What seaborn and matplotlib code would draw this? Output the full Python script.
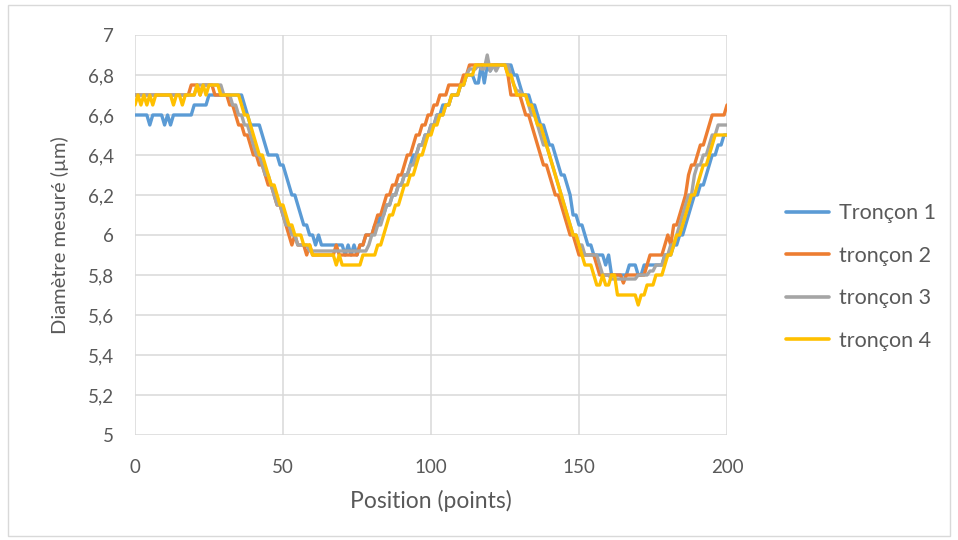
import numpy as np
import pandas as pd
import matplotlib
matplotlib.use("Agg")
import matplotlib.pyplot as plt
from matplotlib.lines import Line2D
from matplotlib.patches import Rectangle
import seaborn as sns

# ---- data (step starts along position, and the measured value from that position on)
positions = list(range(0, 201))

t1_x = [0,5,6,10,11,12,13,20,25,37,38,39,43,44,45,49,51,52,53,55,56,57,59,61,62,63,71,72,73,74,75,76,78,81,83,85,87,89,91,93,94,96,98,100,102,104,107,110,112,115,117,118,119,120,121,128,130,131,134,136,137,139,140,142,143,144,146,147,148,150,152,153,155,159,160,161,167,170,172,179,182,184,186,187,188,189,191,193,194,195,197,199]
t1_y = [6.60,6.55,6.60,6.55,6.60,6.55,6.60,6.65,6.70,6.65,6.60,6.55,6.50,6.45,6.40,6.35,6.30,6.25,6.20,6.15,6.10,6.05,6.00,5.95,6.00,5.95,5.90,5.95,5.90,5.95,5.90,5.95,6.00,6.05,6.10,6.15,6.20,6.25,6.30,6.35,6.40,6.45,6.50,6.55,6.60,6.65,6.70,6.75,6.80,6.76,6.85,6.76,6.85,6.82,6.85,6.80,6.75,6.70,6.65,6.60,6.55,6.50,6.45,6.40,6.35,6.30,6.25,6.20,6.10,6.05,6.00,5.95,5.90,5.85,5.90,5.80,5.85,5.80,5.85,5.90,5.95,6.00,6.05,6.10,6.15,6.20,6.25,6.30,6.35,6.40,6.45,6.50]

t2_x = [0,19,22,23,27,32,34,35,37,39,40,42,44,45,47,48,50,51,52,53,54,55,58,59,60,68,69,76,78,81,82,84,85,87,89,91,92,94,95,97,99,101,103,106,111,113,126,127,131,132,134,135,136,137,138,140,141,142,144,145,146,147,149,150,156,157,165,166,173,174,179,180,181,182,184,185,186,187,188,190,191,193,194,195,200]
t2_y = [6.70,6.75,6.70,6.75,6.70,6.65,6.60,6.55,6.50,6.45,6.40,6.35,6.30,6.25,6.20,6.15,6.10,6.05,6.00,5.95,6.00,5.95,5.90,5.95,5.90,5.95,5.90,5.95,6.00,6.05,6.10,6.15,6.20,6.25,6.30,6.35,6.40,6.45,6.50,6.55,6.60,6.65,6.70,6.75,6.80,6.85,6.80,6.70,6.65,6.60,6.55,6.50,6.45,6.40,6.35,6.30,6.25,6.20,6.15,6.10,6.05,6.00,5.95,5.90,5.85,5.80,5.76,5.80,5.85,5.90,5.95,6.00,5.95,6.05,6.10,6.15,6.20,6.30,6.35,6.40,6.45,6.50,6.55,6.60,6.65]

t3_x = [0,21,30,33,35,37,39,40,41,43,44,46,47,48,50,51,53,55,59,79,80,82,84,85,87,89,91,93,95,96,98,100,102,105,107,110,112,113,116,117,119,120,121,122,123,127,128,129,131,133,134,136,137,138,140,141,142,143,144,145,146,147,148,150,152,157,158,161,170,174,176,179,181,183,184,185,186,187,189,190,192,194,195,197]
t3_y = [6.70,6.75,6.70,6.65,6.60,6.55,6.50,6.45,6.40,6.35,6.30,6.25,6.20,6.15,6.10,6.05,6.00,5.95,5.92,5.95,6.00,6.05,6.10,6.15,6.20,6.25,6.30,6.35,6.40,6.45,6.50,6.55,6.60,6.65,6.70,6.75,6.80,6.83,6.85,6.83,6.90,6.82,6.85,6.82,6.85,6.80,6.75,6.72,6.70,6.65,6.60,6.55,6.50,6.45,6.40,6.35,6.30,6.25,6.20,6.15,6.10,6.05,6.00,5.95,5.90,5.85,5.80,5.78,5.80,5.82,5.85,5.90,5.95,6.00,6.05,6.10,6.15,6.20,6.30,6.35,6.40,6.45,6.50,6.55]

t4_x = [0,1,2,3,4,5,6,7,13,14,16,17,21,22,23,24,25,29,36,37,39,40,41,42,44,45,46,48,49,51,52,54,57,60,68,69,70,77,82,84,85,86,88,90,91,93,95,96,98,99,101,103,105,107,110,112,115,126,128,129,133,135,136,138,139,140,141,142,143,144,145,146,147,148,150,151,152,155,156,158,159,161,163,170,171,173,176,179,180,182,183,185,186,187,188,190,191,192,194,195,196]
t4_y = [6.65,6.70,6.65,6.70,6.65,6.70,6.65,6.70,6.65,6.70,6.65,6.70,6.75,6.70,6.75,6.70,6.75,6.70,6.65,6.60,6.55,6.50,6.45,6.40,6.35,6.30,6.25,6.20,6.15,6.10,6.05,6.00,5.95,5.90,5.85,5.90,5.85,5.90,5.95,6.00,6.05,6.10,6.15,6.20,6.25,6.30,6.35,6.40,6.45,6.50,6.55,6.60,6.65,6.70,6.75,6.80,6.85,6.80,6.75,6.70,6.65,6.60,6.55,6.50,6.45,6.40,6.35,6.30,6.25,6.20,6.15,6.10,6.05,6.00,5.95,5.90,5.85,5.80,5.75,5.80,5.75,5.80,5.70,5.65,5.70,5.75,5.80,5.85,5.90,5.95,6.00,6.05,6.10,6.15,6.20,6.25,6.30,6.35,6.40,6.45,6.50]

series_names = ["Tronçon 1", "tronçon 2", "tronçon 3", "tronçon 4"]
series_steps = [(t1_x, t1_y), (t2_x, t2_y), (t3_x, t3_y), (t4_x, t4_y)]
colors = ["#5B9BD5", "#ED7D31", "#A5A5A5", "#FFC000"]

y_ticks = [5.0, 5.2, 5.4, 5.6, 5.8, 6.0, 6.2, 6.4, 6.6, 6.8, 7.0]
y_tick_labels = ["5", "5,2", "5,4", "5,6", "5,8", "6", "6,2", "6,4", "6,6", "6,8", "7"]
x_ticks = [0, 50, 100, 150, 200]
x_tick_labels = ["0", "50", "100", "150", "200"]

# ---- decode the step readings into one value per position
n = len(positions)
frames = []
for name, (sx, sy) in zip(series_names, series_steps):
    runs = np.diff(list(sx) + [n])
    vals = np.repeat(sy, runs)
    frames.append(pd.DataFrame({"Position": positions, "Diam": vals, "Série": name}))
df = pd.concat(frames, ignore_index=True)

# ---- plot
sns.set_theme(style="white")
plt.rcParams["font.family"] = ["Lato", "DejaVu Sans"]
text_col = "#595959"
grid_col = "#D9D9D9"

fig = plt.figure(figsize=(9.58, 5.40), dpi=100)
ax = fig.add_axes([135/958, 1-435/540, (727-135)/958, 400/540])

sns.lineplot(data=df, x="Position", y="Diam", hue="Série", hue_order=series_names,
             palette=colors, linewidth=2.4, estimator=None, sort=False,
             legend=False, ax=ax, solid_joinstyle="round", solid_capstyle="round")

ax.set_xlim(0, 200)
ax.set_ylim(5, 7)
ax.set_yticks(y_ticks)
ax.set_yticklabels(y_tick_labels)
ax.set_xticks(x_ticks)
ax.set_xticklabels(x_tick_labels)
ax.tick_params(axis="y", length=0, labelsize=13.5, colors=text_col, pad=15)
ax.tick_params(axis="x", length=0, labelsize=13.5, colors=text_col, pad=17)
ax.grid(True, color=grid_col, linewidth=1.1)
ax.set_axisbelow(True)
for s in ["top", "right", "bottom", "left"]:
    ax.spines[s].set_visible(False)
ax.set_xlabel("Position (points)", fontsize=16.5, color=text_col, labelpad=10)
ax.set_ylabel("Diamètre mesuré (µm)", fontsize=14.5, color=text_col, labelpad=14)

handles = [Line2D([0], [0], color=c, linewidth=2.6) for c in colors]
fig.legend(handles, series_names, loc="center left", bbox_to_anchor=(786/958, 1-277/540),
           frameon=False, fontsize=15.5, handlelength=2.0, handletextpad=0.45,
           labelspacing=1.05, borderpad=0, borderaxespad=0, labelcolor=text_col)

fig.patches.append(Rectangle((8/958, 4/540), 942/958, 531/540, transform=fig.transFigure,
                             fill=False, edgecolor=grid_col, linewidth=1.0))

fig.savefig("out.png", dpi=100)
